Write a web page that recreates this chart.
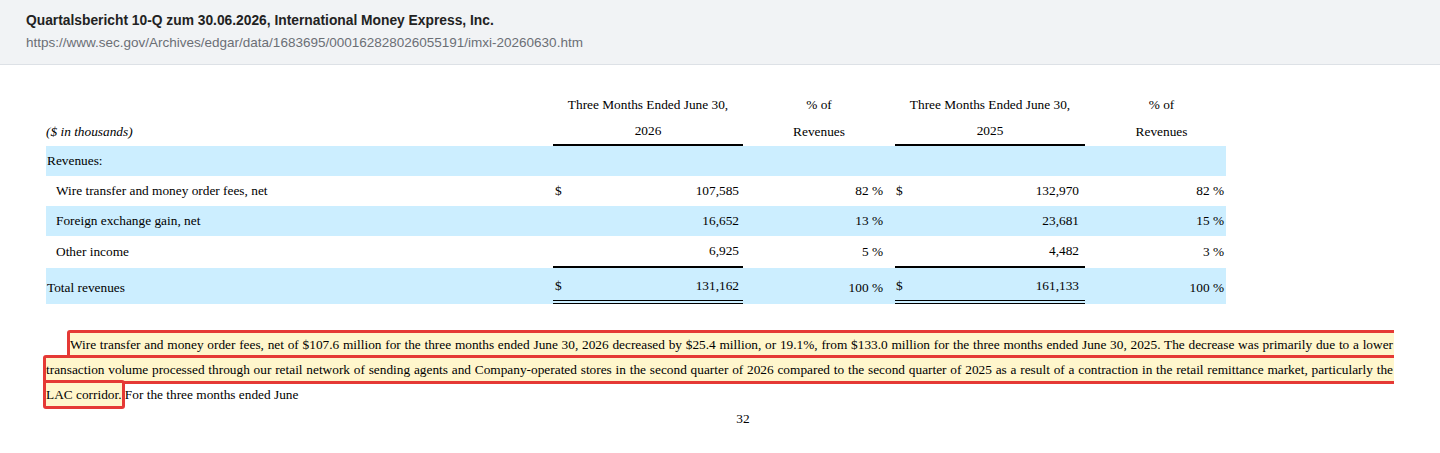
<!DOCTYPE html>
<html>
<head>
<meta charset="utf-8">
<script src="https://cdn.jsdelivr.net/npm/chart.js@4"></script>
<style>
  html, body { margin: 0; padding: 0; background: #fff; }
  body { width: 1440px; height: 453px; overflow: hidden; position: relative; }
  .bar { position: absolute; left: 0; top: 0; width: 1440px; height: 64px; background: #f1f3f5; border-bottom: 1px solid #dde1e6; }
  .bar .t { position: absolute; left: 26px; top: 13px; font: bold 13.8px "Liberation Sans", Arial, sans-serif; color: #222; }
  .bar .u { position: absolute; left: 26px; top: 35px; font: 13.5px "Liberation Sans", Arial, sans-serif; color: #6b6f75; }
  table { position: absolute; left: 46px; top: 92px; border-collapse: separate; border-spacing: 0; table-layout: fixed;
          font: 13.33px "Liberation Serif", "Times New Roman", serif; color: #000; }
  td { padding: 0; white-space: nowrap; }
  tr.h td { height: 26px; text-align: center; vertical-align: middle; }
  tr.h2 td.u { border-bottom: 2px solid #000; }
  tr.r td { height: 30px; vertical-align: middle; }
  tr.band td { background: #cceeff; }
  .lab { padding-left: 1px; }
  .ind { padding-left: 10px; }
  .val { display: flex; justify-content: space-between; padding: 0 4px 0 2px; }
  .val2 { display: flex; justify-content: space-between; padding: 0 6px 0 1px; }
  .pct { text-align: right; padding-right: 12px; }
  .pct2 { text-align: right; padding-right: 2px; }
  tr.sub td.u { border-bottom: 2px solid #000; }
  tr.tot td { height: 28px; padding-top: 4px; }
  tr.tot td.u { border-bottom: 4px double #000; }
  p.txt { position: absolute; left: 46px; top: 332px; width: 1347px; margin: 0; text-indent: 24px; z-index: 2;
          font: 13.33px "Liberation Serif", "Times New Roman", serif; line-height: 25px; text-align: justify; color: #000; }
  .clip { position: absolute; left: 0; top: 0; width: 1394px; height: 453px; overflow: hidden; z-index: 1; }
  .box { position: absolute; background: #fff6cc; border: 3px solid #e53935; border-radius: 3px; box-sizing: border-box; }
  .pg { position: absolute; left: 0; width: 1486px; top: 411px; text-align: center; font: 13.33px "Liberation Serif", "Times New Roman", serif; }
</style>
</head>
<body>
<div class="bar">
  <div class="t">Quartalsbericht 10-Q zum 30.06.2026, International Money Express, Inc.</div>
  <div class="u">https://www.sec.gov/Archives/edgar/data/1683695/000162828026055191/imxi-20260630.htm</div>
</div>
<table id="tbl">
  <colgroup><col style="width:507px"><col style="width:190px"><col style="width:152px"><col style="width:190px"><col style="width:141px"></colgroup>
  <tbody id="body"></tbody>
</table>
<div class="clip" id="clip"></div>
<p class="txt" id="txt"><span id="hl">Wire transfer and money order fees, net of $107.6 million for the three months ended June 30, 2026 decreased by $25.4 million, or 19.1%, from $133.0 million for the three months ended June 30, 2025. The decrease was primarily due to a lower transaction volume processed through our retail network of sending agents and Company-operated stores in the second quarter of 2026 compared to the second quarter of 2025 as a result of a contraction in the retail remittance market, particularly the LAC corridor.</span> For the three months ended June</p>
<div class="pg">32</div>
<script>
const unitLabel = '($ in thousands)';
const periodHeads = ['Three Months Ended June 30,', 'Three Months Ended June 30,'];
const years = ['2026', '2025'];
const pctHead = ['% of', 'Revenues'];
const rowLabels = ['Revenues:', 'Wire transfer and money order fees, net', 'Foreign exchange gain, net', 'Other income', 'Total revenues'];
const values2026 = [null, 107585, 16652, 6925, 131162];
const pct2026 = [null, 82, 13, 5, 100];
const values2025 = [null, 132970, 23681, 4482, 161133];
const pct2025 = [null, 82, 15, 3, 100];
const dollarRows = [1, 4];

const fmt = v => v.toLocaleString('en-US');
const body = document.getElementById('body');

let html = '';
html += '<tr class="h"><td></td><td>' + periodHeads[0] + '</td><td>' + pctHead[0] + '</td><td>' + periodHeads[1] + '</td><td style="padding-left:12px">' + pctHead[0] + '</td></tr>';
html += '<tr class="h h2"><td style="text-align:left;font-style:italic">' + unitLabel + '</td><td class="u">' + years[0] + '</td><td>' + pctHead[1] + '</td><td class="u">' + years[1] + '</td><td style="padding-left:12px">' + pctHead[1] + '</td></tr>';

rowLabels.forEach((lab, i) => {
  const last = i === rowLabels.length - 1;
  const cls = ['r'];
  if (i % 2 === 0) cls.push('band');
  if (i === rowLabels.length - 2) cls.push('sub');
  if (last) cls.push('tot');
  const indent = (i === 0 || last) ? 'lab' : 'lab ind';
  const dol = dollarRows.includes(i) ? '$' : '';
  let row = '<tr class="' + cls.join(' ') + '"><td class="' + indent + '">' + lab + '</td>';
  if (values2026[i] === null) {
    row += '<td></td><td></td><td></td><td></td>';
  } else {
    row += '<td class="u"><div class="val"><span>' + dol + '</span><span>' + fmt(values2026[i]) + '</span></div></td>';
    row += '<td class="pct">' + pct2026[i] + ' %</td>';
    row += '<td class="u"><div class="val2"><span>' + dol + '</span><span>' + fmt(values2025[i]) + '</span></div></td>';
    row += '<td class="pct2">' + pct2025[i] + ' %</td>';
  }
  row += '</tr>';
  html += row;
});
body.innerHTML = html;

// highlight boxes, one per line of the marked sentence; full lines run past the clipped page edge
const clip = document.getElementById('clip');
const rects = document.getElementById('hl').getClientRects();
for (const r of rects) {
  const d = document.createElement('div');
  d.className = 'box';
  const full = r.right > 1380;
  d.style.left = (r.left - 3) + 'px';
  d.style.top = (r.top - 7) + 'px';
  d.style.width = (r.width + (full ? 20 : 6)) + 'px';
  d.style.height = (r.height + 14) + 'px';
  clip.appendChild(d);
}
</script>
</body>
</html>
